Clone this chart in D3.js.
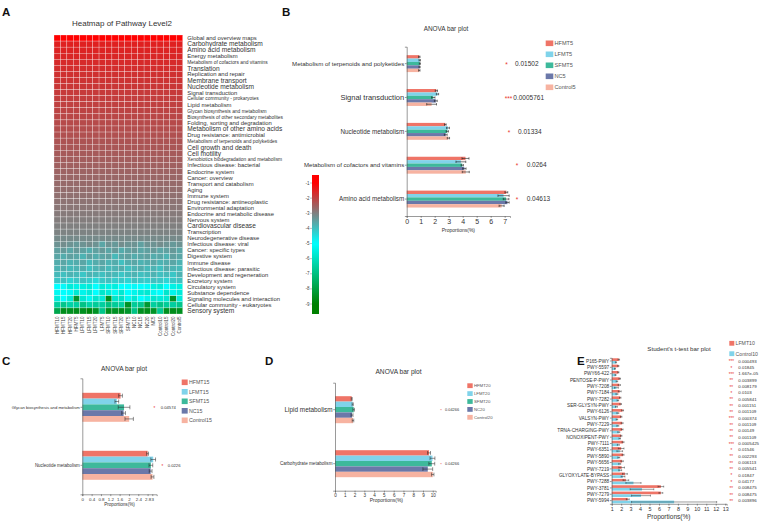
<!DOCTYPE html>
<html><head><meta charset="utf-8">
<script src="https://cdn.jsdelivr.net/npm/d3@7"></script>
<style>body{margin:0;background:#fff}svg{display:block}text{font-family:"Liberation Sans",Arial,sans-serif}</style>
</head><body><svg id="c" width="767" height="521"></svg>
<script>
// ---------------- DATA ----------------
const heatRows=["Global and overview maps","Carbohydrate metabolism","Amino acid metabolism","Energy metabolism","Metabolism of cofactors and vitamins","Translation","Replication and repair","Membrane transport","Nucleotide metabolism","Signal transduction","Cellular community - prokaryotes","Lipid metabolism","Glycan biosynthesis and metabolism","Biosynthesis of other secondary metabolites","Folding, sorting and degradation","Metabolism of other amino acids","Drug resistance: antimicrobial","Metabolism of terpenoids and polyketides","Cell growth and death","Cell motility","Xenobiotics biodegradation and metabolism","Infectious disease: bacterial","Endocrine system","Cancer: overview","Transport and catabolism","Aging","Immune system","Drug resistance: antineoplastic","Environmental adaptation","Endocrine and metabolic disease","Nervous system","Cardiovascular disease","Transcription","Neurodegenerative disease","Infectious disease: viral","Cancer: specific types","Digestive system","Immune disease","Infectious disease: parasitic","Development and regeneration","Excretory system","Circulatory system","Substance dependence","Signaling molecules and interaction","Cellular community - eukaryotes","Sensory system"];
const heatCols=["HFMT10","HFMT15","HFMT20","HFMT5","LFMT10","LFMT15","LFMT20","LFMT5","SFMT10","SFMT15","SFMT20","SFMT5","NC10","NC15","NC20","NC5","Control10","Control15","Control20","Control5"];
// log abundance, rows that look uniform across samples
const heatRowLevel=[-0.9,-1.5,-1.55,-1.6,-1.65,-1.7,-1.75,-1.8,-1.85,-1.9,-1.95,-2.0,-2.05,-2.1,-2.15,-2.2,-2.25,-2.3,-2.35,-2.4,-2.45,-2.5,-2.55,-2.6,-2.65,-2.7,-2.75,-2.8,-2.85,-2.9,-2.95,-3.0,-3.05,-3.15];
// rows 35..46 (varying per sample)
const heatLowerCells=[
[-3.3,-3.2,-3.3,-3.4,-3.3,-3.2,-3.3,-3.6,-3.3,-3.4,-3.2,-3.3,-3.3,-3.5,-3.3,-3.3,-3.2,-3.3,-3.4,-3.3],
[-3.5,-3.4,-3.6,-3.4,-3.5,-3.7,-3.5,-3.4,-3.6,-3.4,-3.7,-3.5,-3.4,-3.6,-3.5,-3.4,-3.6,-3.5,-3.4,-3.6],
[-3.6,-3.7,-3.5,-3.6,-3.8,-3.5,-3.7,-3.6,-3.5,-3.9,-3.6,-3.5,-3.7,-3.6,-3.5,-3.7,-3.6,-3.8,-3.5,-3.6],
[-3.7,-3.6,-3.8,-3.7,-3.6,-3.9,-3.7,-3.6,-3.8,-3.7,-4.0,-3.7,-3.6,-3.8,-3.7,-3.6,-3.8,-3.7,-3.6,-3.8],
[-3.8,-3.7,-3.9,-3.8,-3.7,-4.0,-3.8,-3.7,-3.9,-3.8,-3.7,-4.0,-3.8,-3.7,-3.9,-3.8,-4.0,-3.7,-3.8,-3.9],
[-3.9,-4.0,-3.8,-3.9,-4.1,-3.8,-3.9,-4.0,-3.8,-3.9,-4.1,-3.9,-3.8,-4.0,-3.9,-3.8,-4.0,-3.9,-4.1,-3.8],
[-4.1,-4.0,-4.3,-4.1,-4.0,-4.2,-4.4,-4.1,-4.0,-4.2,-4.1,-4.3,-4.0,-4.1,-4.2,-4.0,-4.1,-4.3,-4.1,-4.0],
[-5.0,-4.9,-5.6,-5.4,-5.5,-5.6,-5.0,-5.6,-5.4,-5.5,-5.0,-5.0,-4.9,-5.0,-5.1,-5.5,-5.6,-5.0,-5.4,-5.5],
[-5.2,-5.0,-5.1,-5.7,-5.3,-5.6,-5.0,-5.8,-5.6,-5.2,-5.7,-5.0,-5.3,-5.6,-5.7,-5.2,-5.0,-5.8,-5.3,-5.6],
[-5.6,-5.0,-5.6,-8.3,-5.7,-5.2,-5.8,-5.6,-8.5,-5.8,-5.9,-5.2,-5.7,-5.0,-5.3,-5.8,-5.6,-5.7,-8.4,-5.6],
[-6.5,-6.8,-6.4,-6.5,-6.9,-6.4,-6.6,-6.5,-7.0,-6.6,-6.5,-8.4,-6.6,-6.8,-8.2,-6.5,-6.9,-6.6,-6.5,-6.8],
[-7.8,-8.6,-8.5,-8.6,-8.5,-8.8,-8.4,-6.8,-8.5,-8.4,-8.6,-8.3,-6.9,-8.5,-8.6,-8.4,-6.7,-8.5,-8.6,-8.5]];
const heatLegendTicks=[-1,-2,-3,-4,-5,-6,-7,-8,-9];

// Panel B
const seriesB=["HFMT5","LFMT5","SFMT5","NC5","Control5"];
const catsB=["Metabolism of terpenoids and polyketides","Signal transduction","Nucleotide metabolism","Metabolism of cofactors and vitamins","Amino acid metabolism"];
const valsB=[[0.90,0.93,0.94,0.92,0.90],[2.12,2.20,1.90,2.08,1.78],[2.76,2.95,2.90,2.79,2.98],[4.20,3.87,3.97,4.12,4.22],[7.12,6.92,7.10,7.20,6.78]];
const errB=[[0.05,0.05,0.04,0.04,0.05],[0.08,0.08,0.12,0.10,0.35],[0.06,0.10,0.08,0.10,0.08],[0.25,0.35,0.08,0.12,0.25],[0.10,0.40,0.20,0.12,0.18]];
const pB=["0.01502","0.0005761","0.01334","0.0264","0.04613"];
const ticksB=[0,1,2,3,4,5,6,7];

// Panel C
const seriesC=["HFMT15","LFMT15","SFMT15","NC15","Control15"];
const catsC=["Glycan biosynthesis and metabolism","Nucleotide metabolism"];
const valsC=[[1.64,1.48,1.79,1.77,2.01],[2.80,3.04,2.94,2.93,3.01]];
const errC=[[0.08,0.08,0.25,0.08,0.18],[0.04,0.10,0.08,0.06,0.06]];
const pC=["0.04574","0.0226"];
const ticksC=[0,0.4,0.8,1.2,1.6,2,2.4,2.8,3];

// Panel D
const seriesD=["HFMT20","LFMT20","SFMT20","NC20","Control20"];
const catsD=["Lipid metabolism","Carbohydrate metabolism"];
const valsD=[[1.71,1.81,1.91,1.74,1.84],[9.62,9.97,9.90,9.49,10.0]];
const errD=[[0.05,0.06,0.08,0.10,0.08],[0.15,0.25,0.30,0.50,0.12]];
const pD=["0.04266","0.04266"];
const ticksD=[0,1,2,3,4,5,6,7,8,9,10];

// Panel E
const seriesE=["LFMT10","Control10"];
const catsE=["P165-PWY","PWY-5597","PWY66-422","PENTOSE-P-PWY","PWY-7208","PWY-7184","PWY-7282","SER-GLYSYN-PWY","PWY-6126","VALSYN-PWY","PWY-7229","TRNA-CHARGING-PWY","NONOXIPENT-PWY","PWY-7111","PWY-6351","PWY-5890","PWY-5656","PWY-7219","GLYOXYLATE-BYPASS","PWY-7288","PWY-3781","PWY-7279","PWY-5994"];
const valsE_L=[1.75,1.70,1.70,1.85,1.80,1.85,1.90,1.95,2.15,2.00,2.10,2.10,2.00,2.20,2.00,2.20,2.10,2.05,2.40,2.50,6.20,6.20,2.70];
const valsE_C=[1.45,1.35,1.40,1.55,1.50,1.55,1.65,1.50,1.65,1.55,1.65,1.75,1.85,1.70,1.85,1.75,1.85,1.90,2.20,3.30,4.20,4.10,7.60];
const errE_L=[0.08,0.06,0.06,0.08,0.12,0.15,0.08,0.08,0.10,0.08,0.10,0.10,0.08,0.10,0.30,0.10,0.12,0.30,0.25,0.30,0.30,0.20,0.15];
const errE_C=[0.06,0.05,0.05,0.08,0.20,0.10,0.08,0.10,0.10,0.08,0.10,0.10,0.08,0.10,0.30,0.10,0.10,0.15,0.20,0.80,1.25,1.00,4.50];
const pE=["0.000493","0.01845","1.667e-05","0.003899","0.008179","0.0103","0.005841","0.001151","0.001109","0.000374","0.001109","0.00149","0.001109","0.0005425","0.01546","0.002293","0.006113","0.005541","0.01847","0.04177","0.008475","0.008475","0.003896"];
const ticksE=[1,2,3,4,5,6,7,8,9,10,11,12,13];

// ---------------- STYLES ----------------
const seriesColors=["#ef7467","#80d3ea","#3db99b","#6b78a9","#f7b3a1"];
const big=6.6, nor=5.9, sml=4.9;
const heatLabelSize=[nor,big,big,nor,sml,big,nor,big,big,nor,sml,nor,sml,sml,nor,big,nor,sml,big,big,sml,nor,nor,nor,nor,nor,nor,nor,nor,nor,nor,big,nor,nor,nor,nor,nor,nor,nor,nor,nor,nor,nor,nor,nor,big];

const svg=d3.select("#c");
svg.append("rect").attr("width",767).attr("height",521).attr("fill","#fff");
const stars=p=>{const v=+p;return v<0.001?"***":v<0.01?"**":"*";};

function letter(t,x,y){svg.append("text").attr("x",x).attr("y",y).attr("font-size",11.5).attr("font-weight","bold").attr("fill","#111").text(t);}
letter("A",2,16);letter("B",282,15.5);letter("C",2,364.5);letter("D",265,364.5);letter("E",577,364.5);

// ---------------- HEATMAP ----------------
const heatMatrix=heatRows.map((r,i)=> i<heatRowLevel.length ? heatCols.map(()=>heatRowLevel[i]) : heatLowerCells[i-heatRowLevel.length]);
const color=d3.scaleLinear().domain([-1,-3,-5,-9]).range(["#ff0000","#808080","#00ffff","#008000"]).clamp(true);
const hx=d3.scaleBand().domain(heatCols).range([54,182.7]);
const hy=d3.scaleBand().domain(heatRows).range([35,314]);
svg.append("text").attr("x",122).attr("y",26).attr("text-anchor","middle").attr("font-size",8).attr("fill","#333").text("Heatmap of Pathway Level2");
const hg=svg.append("g");
heatRows.forEach((r,i)=>heatCols.forEach((c,j)=>{
  hg.append("rect").attr("x",hx(c)).attr("y",hy(r)).attr("width",hx.bandwidth()).attr("height",hy.bandwidth())
    .attr("fill",color(heatMatrix[i][j])).attr("stroke","#fff").attr("stroke-opacity",0.75).attr("stroke-width",0.35);
}));
heatRows.forEach((r,i)=>{
  svg.append("text").attr("x",187.3).attr("y",hy(r)+hy.bandwidth()/2+heatLabelSize[i]*0.35)
    .attr("font-size",heatLabelSize[i]).attr("fill","#333").text(r);
});
heatCols.forEach(c=>{
  const cx=hx(c)+hx.bandwidth()/2;
  svg.append("text").attr("transform",`translate(${cx+1.5},316.5) rotate(-90)`).attr("text-anchor","end")
    .attr("font-size",4.5).attr("fill","#444").text(c);
});
// colour bar
const ly=d3.scaleLinear().domain([-0.47,-9.66]).range([175,314]);
const grad=svg.append("defs").append("linearGradient").attr("id","hg").attr("x1",0).attr("x2",0).attr("y1",0).attr("y2",1);
d3.range(0,1.0001,0.02).forEach(t=>{grad.append("stop").attr("offset",t).attr("stop-color",color(ly.invert(175+t*139)));});
svg.append("rect").attr("x",312).attr("y",175).attr("width",7).attr("height",139).attr("fill","url(#hg)");
heatLegendTicks.forEach(v=>{
  svg.append("text").attr("x",309.5).attr("y",ly(v)+1.5).attr("text-anchor","end").attr("font-size",4.5).attr("fill","#444").text(v);
  svg.append("line").attr("x1",310).attr("x2",312).attr("y1",ly(v)).attr("y2",ly(v)).attr("stroke","#666").attr("stroke-width",0.4);
});

// ---------------- BAR PANELS ----------------
function barPanel(o){
  const x=d3.scaleLinear().domain(o.xDomain).range(o.xRange);
  const y=d3.scaleBand().domain(o.cats).range(o.yRange).paddingInner(o.padIn).paddingOuter(o.padOut);
  const ys=d3.scaleBand().domain(o.series).range([0,y.bandwidth()]);
  const g=svg.append("g");
  const x0=x(o.xDomain[0]);
  o.cats.forEach((c,i)=>{
    o.series.forEach((s,j)=>{
      const v=o.vals[j][i], e=o.errs[j][i];
      const by=y(c)+ys(s), bh=ys.bandwidth();
      g.append("rect").attr("x",x0).attr("y",by).attr("width",x(v)-x0).attr("height",bh).attr("fill",o.colors[j]);
      const cy=by+bh/2, ch=Math.max(bh*0.35,0.8);
      g.append("line").attr("x1",x(v-e)).attr("x2",x(v+e)).attr("y1",cy).attr("y2",cy).attr("stroke","#222").attr("stroke-width",o.ew);
      [v-e,v+e].forEach(t=>g.append("line").attr("x1",x(t)).attr("x2",x(t)).attr("y1",cy-ch).attr("y2",cy+ch).attr("stroke","#222").attr("stroke-width",o.ew));
    });
  });
  const xa=g.append("g").attr("transform",`translate(0,${o.yRange[1]})`)
    .call(d3.axisBottom(x).tickValues(o.ticks).tickSize(1.8).tickSizeOuter(1.8).tickPadding(1.5).tickFormat(d3.format("~g")));
  xa.selectAll("text").attr("font-size",o.tickFont).attr("fill","#333").attr("font-family",null);
  const ya=g.append("g").attr("transform",`translate(${x0},0)`)
    .call(d3.axisLeft(y).tickSize(1.8).tickSizeOuter(1.8).tickFormat(""));
  [xa,ya].forEach(a=>{a.selectAll("path,line").attr("stroke","#555").attr("stroke-width",0.6);});
  o.cats.forEach((c,i)=>{
    const fs=o.labelFont[i];
    g.append("text").attr("x",x0-2.5).attr("y",y(c)+y.bandwidth()/2+fs*0.35).attr("text-anchor","end")
      .attr("font-size",fs).attr("fill","#333").text(c);
    const cy=y(c)+y.bandwidth()/2;
    const xe=o.xRange[1];
    g.append("text").attr("x",xe+o.starDx[i]).attr("y",cy+o.starFont*0.5).attr("text-anchor","middle")
      .attr("font-size",o.starFont).attr("fill","#e8352a").text(stars(o.pvals[i]));
    g.append("text").attr("x",xe+o.pDx[i]).attr("y",cy+o.pFont*0.35).attr("font-size",o.pFont).attr("fill","#333").text(o.pvals[i]);
  });
  g.append("text").attr("x",o.titleX).attr("y",o.titleY).attr("text-anchor","middle").attr("font-size",o.titleFont).attr("fill","#333").text(o.title);
  g.append("text").attr("x",(o.xRange[0]+o.xRange[1])/2+o.xlabDx).attr("y",o.xlabY).attr("text-anchor","middle").attr("font-size",o.xlabFont).attr("fill","#333").text("Proportions(%)");
  o.series.forEach((s,j)=>{
    const cy=o.leg.y0+j*o.leg.dy;
    g.append("rect").attr("x",o.leg.x).attr("y",cy-o.leg.h/2).attr("width",o.leg.w).attr("height",o.leg.h).attr("fill",o.colors[j]);
    g.append("text").attr("x",o.leg.x+o.leg.w+1.2).attr("y",cy+o.leg.fs*0.36).attr("font-size",o.leg.fs).attr("fill","#555").text(s);
  });
}
const T=m=>m[0].map((_,j)=>m.map(r=>r[j])); // category-major -> series-major

barPanel({cats:catsB,series:seriesB,vals:T(valsB),errs:T(errB),pvals:pB,ticks:ticksB,colors:seriesColors,
  xDomain:[0,7.38],xRange:[406.7,510],yRange:[46.7,216],padIn:0.5,padOut:0.25,ew:0.6,
  tickFont:7,labelFont:[6.1,7.5,6.3,6.1,6.3],starFont:6.5,starDx:[-3.5,-1.5,-1,7,7],pDx:[5,3.3,8,16.7,16.7],pFont:6.5,
  title:"ANOVA bar plot",titleX:446,titleY:31,titleFont:6.4,xlabDx:0,xlabY:231.5,xlabFont:5,
  leg:{x:545.7,y0:43.3,dy:11,w:7.6,h:5.6,fs:5.6}});

barPanel({cats:catsC,series:seriesC,vals:T(valsC),errs:T(errC),pvals:pC,ticks:ticksC,colors:seriesColors,
  xDomain:[0,3.19],xRange:[82.3,156.7],yRange:[378.3,494.3],padIn:0.5,padOut:0.25,ew:0.5,
  tickFont:4.4,labelFont:[4.2,4.45],starFont:4.5,starDx:[-2.4,5.6],pDx:[4,11],pFont:4.2,
  title:"ANOVA bar plot",titleX:124,titleY:371,titleFont:6.6,xlabDx:0,xlabY:505.5,xlabFont:4.6,
  leg:{x:181.7,y0:382.3,dy:9.5,w:6,h:5.6,fs:5.3}});

barPanel({cats:catsD,series:seriesD,vals:T(valsD),errs:T(errD),pvals:pD,ticks:ticksD,colors:seriesColors,
  xDomain:[0,10.3],xRange:[335,435.7],yRange:[382.7,490.7],padIn:0.5,padOut:0.25,ew:0.5,
  tickFont:4.6,labelFont:[6.4,4.6],starFont:4,starDx:[5.3,5.3],pDx:[9.3,9.3],pFont:3.9,
  title:"ANOVA bar plot",titleX:398.5,titleY:374,titleFont:6.6,xlabDx:1,xlabY:502,xlabFont:5,
  leg:{x:467.3,y0:385.7,dy:7.9,w:5.4,h:4.8,fs:4.3}});

barPanel({cats:catsE,series:seriesE,vals:[valsE_L,valsE_C],errs:[errE_L,errE_C],pvals:pE,ticks:ticksE,colors:[seriesColors[0],seriesColors[1]],
  xDomain:[1,13.16],xRange:[611.7,726.7],yRange:[357.8,503.8],padIn:0.15,padOut:0.075,ew:0.45,
  tickFont:5.4,labelFont:catsE.map(()=>4.7),starFont:4.5,starDx:catsE.map(()=>4.6),pDx:catsE.map(()=>11.6),pFont:4.4,
  title:"Student's t-test bar plot",titleX:679,titleY:351,titleFont:6.2,xlabDx:-0.5,xlabY:518.5,xlabFont:6.5,
  leg:{x:729.3,y0:343.3,dy:10.4,w:5,h:4.8,fs:5.2}});
</script></body></html>
